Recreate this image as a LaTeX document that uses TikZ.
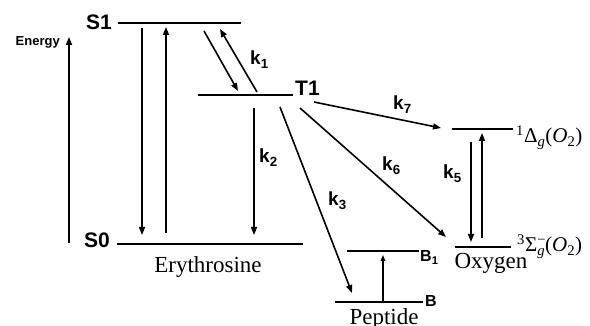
\documentclass[tikz,border=0pt]{standalone}
\usepackage{fontspec}
\setmainfont{Liberation Serif}
\setsansfont{Liberation Sans}
\usetikzlibrary{arrows.meta}
\begin{document}
\begin{tikzpicture}[x=1pt,y=-1pt,
  level/.style={line width=2pt},
  arr/.style={line width=1.6pt,-{Triangle[length=8pt,width=6pt]}},
  thinarr/.style={line width=1.1pt,-{Triangle[length=6pt,width=4.5pt]}},
  lbl/.style={font=\sffamily\bfseries\fontsize{21}{21}\selectfont,inner sep=0pt},
  klbl/.style={font=\sffamily\bfseries\fontsize{19}{19}\selectfont,inner sep=0pt,anchor=base west},
  blbl/.style={font=\sffamily\bfseries\fontsize{16}{16}\selectfont,inner sep=0pt,anchor=base west},
  molname/.style={font=\fontsize{23}{23}\selectfont,inner sep=0pt,anchor=base},
  statelbl/.style={font=\fontsize{21}{21}\selectfont,inner sep=0pt,anchor=base west},
]
\useasboundingbox (0,0) rectangle (590,326);

% energy axis
\coordinate (eb) at (69,243);
\coordinate (et) at (69,37);
\draw[arr] (eb) -- (et);
\node[font=\sffamily\bfseries\fontsize{13}{13}\selectfont,inner sep=0pt,anchor=east] (energy) at (60,42) {Energy};

% levels
\coordinate (s1l) at (118,23);  \coordinate (s1r) at (241,23);
\coordinate (t1l) at (198,95);  \coordinate (t1r) at (293,95);
\coordinate (s0l) at (117,244); \coordinate (s0r) at (303,244);
\coordinate (dl) at (452,129);  \coordinate (dr) at (513,129);
\coordinate (sl) at (455,247);  \coordinate (sr) at (511,247);
\coordinate (b1l) at (347,251); \coordinate (b1r) at (419,251);
\coordinate (bl) at (335,302);  \coordinate (br) at (423,302);
\draw[level] (s1l) -- (s1r);
\draw[level] (t1l) -- (t1r);
\draw[level] (s0l) -- (s0r);
\draw[level] (dl) -- (dr);
\draw[level] (sl) -- (sr);
\draw[level] (b1l) -- (b1r);
\draw[level] (bl) -- (br);

% level labels
\node[lbl,anchor=east] (S1) at (112,22) {S1};
\node[lbl,anchor=west] (T1) at (295,88) {T1};
\node[lbl,anchor=east] (S0) at (110,240) {S0};
\node[blbl] (B1) at (420,262) {B\textsubscript{1}};
\node[blbl] (B) at (425,307) {B};
\node[molname] (ery) at (208,273) {Erythrosine};
\node[molname] (oxy) at (491,269) {Oxygen};
\node[molname] (pep) at (384,324) {Peptide};
\node[statelbl] (delta) at (516,143) {\textsuperscript{1}Δ\textsubscript{\textit{g}}(\textit{O}\textsubscript{2})};
\node[statelbl] (sigma) at (517,252) {\textsuperscript{3}Σ\rlap{\textsuperscript{−}}\textsubscript{\textit{g}}(\textit{O}\textsubscript{2})};

% arrow endpoints
\coordinate (a1s) at (142,28);  \coordinate (a1e) at (142,235);
\coordinate (a2s) at (166,233); \coordinate (a2e) at (166,27);
\coordinate (k1ds) at (204,31); \coordinate (k1de) at (238,91);
\coordinate (k1us) at (257,92); \coordinate (k1ue) at (220,29);
\coordinate (k2s) at (254,108); \coordinate (k2e) at (254,235);
\coordinate (k3s) at (280,107); \coordinate (k3e) at (352,293);
\coordinate (k6s) at (300,108); \coordinate (k6e) at (446,237);
\coordinate (k7s) at (314,102); \coordinate (k7e) at (441,128);
\coordinate (k5ds) at (471,142); \coordinate (k5de) at (471,242);
\coordinate (k5us) at (482,238); \coordinate (k5ue) at (482,133);
\coordinate (bs) at (383,302);  \coordinate (be) at (383,255);

\draw[arr] (a1s) -- (a1e);
\draw[arr] (a2s) -- (a2e);
\draw[arr] (k1ds) -- (k1de);
\draw[arr] (k1us) -- (k1ue);
\draw[arr] (k2s) -- (k2e);
\draw[arr] (k3s) -- (k3e);
\draw[arr] (k6s) -- (k6e);
\draw[arr] (k7s) -- (k7e);
\draw[arr] (k5ds) -- (k5de);
\draw[arr] (k5us) -- (k5ue);
\draw[thinarr] (bs) -- (be);

% rate labels
\node[klbl] (k1) at (250,65) {k\textsubscript{1}};
\node[klbl] (k2) at (259,163) {k\textsubscript{2}};
\node[klbl] (k3) at (328,206) {k\textsubscript{3}};
\node[klbl] (k6) at (382,171) {k\textsubscript{6}};
\node[klbl] (k7) at (393,110) {k\textsubscript{7}};
\node[klbl] (k5) at (443,179) {k\textsubscript{5}};
\end{tikzpicture}
\end{document}
